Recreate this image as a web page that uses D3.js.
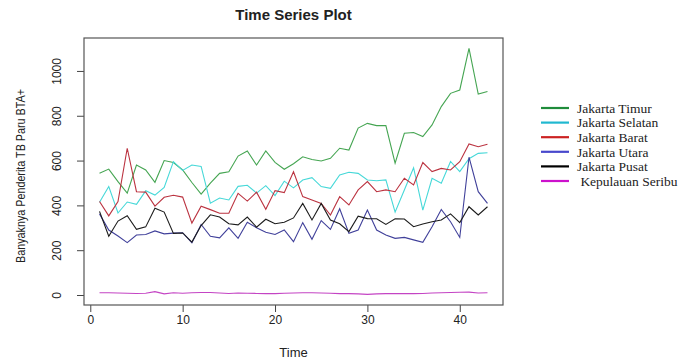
<!DOCTYPE html>
<html lang="id">

<head>
    <meta charset="UTF-8">
    <script src="https://cdn.jsdelivr.net/npm/d3@7"></script>
    <title>Time Series Plot</title>
</head>
<style>
    body {
        margin: 0;
        background: #fff;
    }

    text {
        fill: #222;
    }
</style>

<body>
</body>
<script>
    // nilai per periode (43 titik)
    var timur = [543, 562, 506, 455, 580, 558, 503, 600, 591, 558, 502, 450, 499, 543, 550, 620, 643, 580, 643, 592, 561,
        586, 617, 605, 598, 610, 655, 647, 745, 766, 756, 756, 588, 722, 725, 707, 759, 841, 900, 915, 1101, 897, 908];
    var selatan = [414, 484, 366, 415, 405, 465, 446, 480, 595, 556, 580, 574, 410, 433, 424, 485, 490, 455, 488, 444, 508,
        478, 513, 524, 484, 476, 536, 548, 543, 513, 510, 514, 370, 469, 568, 379, 521, 499, 596, 551, 608, 632, 635];
    var barat = [417, 353, 417, 655, 461, 459, 397, 436, 445, 437, 321, 396, 381, 365, 365, 454, 419, 459, 383, 466, 457,
        550, 439, 424, 409, 357, 439, 402, 469, 506, 461, 469, 461, 521, 491, 591, 551, 565, 558, 595, 674, 662, 673];
    var utara = [362, 290, 263, 234, 268, 270, 286, 273, 276, 278, 233, 315, 262, 255, 300, 253, 325, 300, 280, 270, 290,
        238, 323, 249, 332, 293, 385, 275, 290, 379, 290, 268, 253, 257, 246, 235, 305, 382, 327, 257, 615, 461, 409];
    var pusat = [373, 262, 330, 354, 293, 304, 387, 370, 275, 277, 236, 310, 358, 348, 318, 313, 348, 303, 338, 318, 325,
        344, 409, 335, 409, 335, 318, 283, 352, 341, 340, 315, 340, 339, 305, 317, 327, 335, 362, 323, 394, 357, 394];
    var seribu = [10, 10, 9, 8, 7, 8, 15, 5, 10, 8, 10, 11, 11, 9, 7, 9, 8, 7, 6, 6, 8, 9, 10, 10, 9, 8, 6, 6, 5, 3, 5,
        6, 6, 6, 6, 7, 9, 10, 11, 12, 13, 9, 10];

    var names = ["Jakarta Timur", "Jakarta Selatan", "Jakarta Barat", "Jakarta Utara", "Jakarta Pusat", " Kepulauan Seribu"];
    var lineColors = ["#45a552", "#46d8d8", "#bb3340", "#40409a", "#1c1c1c", "#c444c4"];
    var keyColors = ["#1f8c3b", "#20b8d0", "#cc2222", "#4848cc", "#000000", "#cc11cc"];
    var xTicks = [0, 10, 20, 30, 40];
    var yTicks = [0, 200, 400, 600, 800, 1000];

    var series = [timur, selatan, barat, utara, pusat, seribu];

    var width = 686,
        height = 363;
    var plotLeft = 84,
        plotRight = 503,
        plotTop = 38,
        plotBottom = 305;

    var x = d3.scaleLinear().domain([-0.68, 44.68]).range([plotLeft, plotRight]);
    var y = d3.scaleLinear().domain([-44.6, 1147]).range([plotBottom, plotTop]);

    var svg = d3.select("body")
        .append("svg")
        .attr("width", width)
        .attr("height", height)
        .style("font-family", "Arial, 'Liberation Sans', sans-serif");

    svg.append("text")
        .attr("x", (plotLeft + plotRight) / 2)
        .attr("y", 20)
        .attr("text-anchor", "middle")
        .style("font-weight", "bold")
        .style("font-size", "15px")
        .text("Time Series Plot");

    // sumbu x
    var xAxis = svg.append("g")
        .attr("transform", "translate(0," + plotBottom + ")")
        .call(d3.axisBottom(x).tickValues(xTicks).tickSize(7).tickPadding(3));
    xAxis.select(".domain").remove();
    xAxis.selectAll("line").attr("stroke", "#444");
    xAxis.selectAll("text").style("font-size", "12px").style("font-family", "Arial, 'Liberation Sans', sans-serif").attr("fill", "#222");

    // sumbu y, label diputar seperti R
    var yAxis = svg.append("g")
        .attr("transform", "translate(" + plotLeft + ",0)")
        .call(d3.axisLeft(y).tickValues(yTicks).tickSize(7).tickFormat(d3.format("d")));
    yAxis.select(".domain").remove();
    yAxis.selectAll("line").attr("stroke", "#444");
    yAxis.selectAll("text")
        .style("font-size", "12px")
        .style("font-family", "Arial, 'Liberation Sans', sans-serif")
        .attr("fill", "#222")
        .attr("x", null)
        .attr("dy", null)
        .attr("text-anchor", "middle")
        .attr("transform", "translate(-27,0) rotate(-90)")
        .attr("y", 0)
        .attr("dominant-baseline", "central");

    svg.append("rect")
        .attr("x", plotLeft)
        .attr("y", plotTop)
        .attr("width", plotRight - plotLeft)
        .attr("height", plotBottom - plotTop)
        .attr("fill", "none")
        .attr("stroke", "#555")
        .attr("stroke-width", 1.2);

    svg.append("text")
        .attr("x", (plotLeft + plotRight) / 2)
        .attr("y", 357)
        .attr("text-anchor", "middle")
        .style("font-size", "13px")
        .text("Time");

    // label sumbu y lebih sempit (font narrow di gambar asli)
    svg.append("text")
        .attr("transform", "translate(25,176) rotate(-90)")
        .attr("text-anchor", "middle")
        .attr("textLength", 174)
        .attr("lengthAdjust", "spacingAndGlyphs")
        .style("font-size", "13px")
        .text("Banyaknya Penderita TB Paru BTA+");

    var line = d3.line()
        .x(function(d, i) { return x(i + 1); })
        .y(function(d) { return y(d); });

    svg.append("g")
        .selectAll("path")
        .data(series)
        .enter()
        .append("path")
        .attr("d", line)
        .attr("fill", "none")
        .attr("stroke", function(d, i) { return lineColors[i]; })
        .attr("stroke-width", 1.1);

    // legenda
    var legend = svg.append("g")
        .attr("transform", "translate(541,108)");

    var item = legend.selectAll("g")
        .data(names)
        .enter()
        .append("g")
        .attr("transform", function(d, i) { return "translate(0," + (i * 14.6) + ")"; });

    item.append("line")
        .attr("x1", 0)
        .attr("x2", 28)
        .attr("stroke", function(d, i) { return keyColors[i]; })
        .attr("stroke-width", 2.2);

    item.append("text")
        .attr("x", 36)
        .attr("dy", "0.35em")
        .style("font-family", "'Liberation Serif', 'Times New Roman', serif")
        .style("font-size", "13.5px")
        .style("white-space", "pre")
        .text(function(d) { return d; });
</script>

</html>
